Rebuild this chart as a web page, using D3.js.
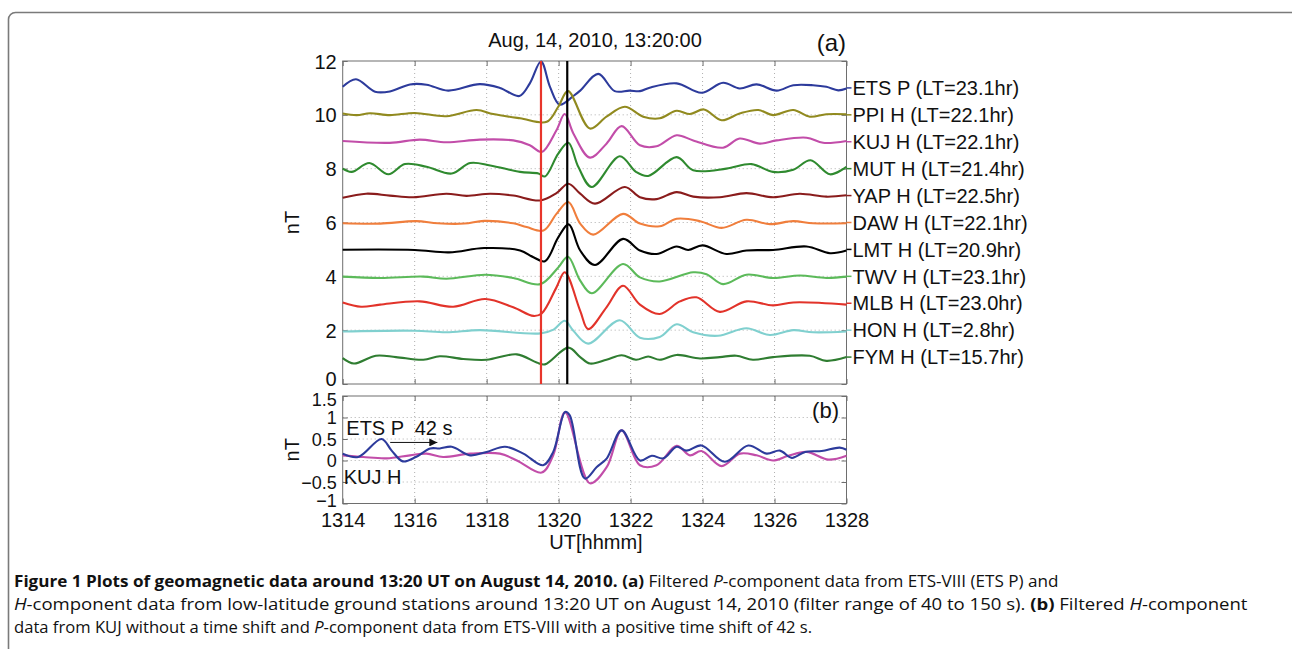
<!DOCTYPE html>
<html><head><meta charset="utf-8">
<script src="https://cdn.jsdelivr.net/npm/d3@7"></script>
<style>
body{margin:0;background:#fff;}
svg{display:block;}
text{font-family:"Liberation Sans",Arial,Helvetica,sans-serif;fill:#111;}
</style></head>
<body>
<svg id="c" width="1292" height="649"></svg>
<script>
// ---------- data ----------
const xTicks = [1314,1316,1318,1320,1322,1324,1326,1328];
const yTicksA = [0,2,4,6,8,10,12];
const yTicksB = [-1,-0.5,0,0.5,1,1.5];
const yTickLabelsB = ["\u22121","\u22120.5","0","0.5","1","1.5"];
const redLineT = 1319.51;
const blackLineT = 1320.24;

const stationNames = ["ETS P (LT=23.1hr)","PPI H (LT=22.1hr)","KUJ H (LT=22.1hr)","MUT H (LT=21.4hr)","YAP H (LT=22.5hr)","DAW H (LT=22.1hr)","LMT H (LT=20.9hr)","TWV H (LT=23.1hr)","MLB H (LT=23.0hr)","HON H (LT=2.8hr)","FYM H (LT=15.7hr)"];
const stationBase = [11,10,9,8,7,6,5,4,3,2,1];
const stationColors = ["#2d3b9c","#918a1f","#c24da9","#2f8a2f","#8a1c1c","#f07e3c","#000000","#5cba5a","#e2332a","#80d0cf","#2f7d31"];

const etsP = [[1314,11.04],[1314.37,11.32],[1314.9,10.86],[1315.31,10.87],[1315.87,11.13],[1316.33,11.12],[1316.93,10.9],[1317.81,11.14],[1318.37,11.0],[1318.91,10.7],[1319.2,11.17],[1319.51,11.98],[1319.76,11.04],[1320.03,10.38],[1320.41,10.7],[1320.6,10.9],[1321.1,11.52],[1321.56,10.88],[1321.97,10.9],[1322.26,10.88],[1322.53,11.01],[1323.28,11.17],[1323.97,10.82],[1324.57,11.19],[1325.03,10.98],[1325.5,11.13],[1326.06,10.9],[1326.52,11.1],[1327.07,11.1],[1327.44,11.04],[1327.77,10.91],[1328,10.98]];
const ppiH = [[1314,10.05],[1314.39,9.99],[1314.76,10.06],[1315.31,9.99],[1316.0,10.07],[1316.88,9.95],[1317.72,10.18],[1318.18,10.03],[1318.93,9.87],[1319.67,9.74],[1319.99,10.3],[1320.26,10.88],[1320.87,9.49],[1321.33,9.93],[1321.84,10.3],[1322.35,9.93],[1322.81,9.87],[1323.28,10.15],[1323.65,10.03],[1324.04,10.2],[1324.53,9.8],[1325.03,10.05],[1325.55,10.18],[1325.96,9.99],[1326.52,10.18],[1326.98,9.93],[1327.44,10.02],[1328,10.02]];
const kujH = [[1314,9.03],[1315.31,8.96],[1316.14,9.08],[1316.88,8.98],[1317.81,9.08],[1318.74,9.05],[1319.2,8.87],[1319.53,8.62],[1319.94,9.43],[1320.17,10.03],[1320.41,9.31],[1320.87,8.41],[1321.33,8.93],[1321.75,9.58],[1322.26,8.87],[1322.72,8.83],[1323.28,9.24],[1323.74,9.05],[1324.57,8.78],[1325.03,9.12],[1325.59,8.93],[1326.06,9.05],[1326.89,9.15],[1327.35,8.96],[1328,9.03]];
const mutH = [[1314,8.0],[1314.25,7.88],[1314.74,8.21],[1315.27,7.79],[1315.73,8.17],[1316.33,8.07],[1317.03,7.82],[1317.54,8.21],[1318.1,8.12],[1318.93,7.88],[1319.44,7.82],[1319.62,7.71],[1319.99,8.56],[1320.27,8.96],[1320.55,8.06],[1320.92,7.32],[1321.7,8.46],[1322.15,7.88],[1322.49,7.73],[1323.28,8.43],[1323.74,7.94],[1324.66,8.0],[1325.36,8.17],[1325.96,7.88],[1326.52,7.96],[1327.0,8.31],[1327.54,7.79],[1328,8.07]];
const yapH = [[1314,6.92],[1314.65,7.07],[1315.31,7.0],[1315.96,6.94],[1316.88,7.07],[1317.44,6.99],[1318.1,7.07],[1318.74,7.0],[1319.49,6.82],[1319.94,7.09],[1320.27,7.44],[1320.6,7.07],[1321.01,6.7],[1321.84,7.32],[1322.26,6.94],[1322.72,6.87],[1323.28,7.13],[1323.74,6.96],[1324.48,6.94],[1325.22,7.09],[1325.96,6.94],[1326.7,7.07],[1327.44,6.96],[1328,7.01]];
const dawH = [[1314,5.97],[1315.04,5.96],[1316.04,6.05],[1316.64,5.97],[1317.38,5.96],[1317.93,6.06],[1318.74,5.97],[1319.11,5.83],[1319.58,5.7],[1319.94,6.32],[1320.27,6.76],[1320.6,5.96],[1320.96,5.55],[1321.79,6.32],[1322.26,5.96],[1322.81,5.86],[1323.28,6.14],[1323.93,6.05],[1324.53,5.8],[1325.22,6.1],[1325.87,5.94],[1326.52,6.05],[1327.07,5.97],[1328,5.97]];
const lmtH = [[1314,4.99],[1316.0,4.98],[1316.96,4.89],[1317.93,5.05],[1318.93,4.96],[1319.3,4.71],[1319.62,4.56],[1319.99,5.45],[1320.28,5.93],[1320.6,4.96],[1321.01,4.42],[1321.79,5.39],[1322.26,4.96],[1322.72,4.83],[1323.28,5.11],[1323.6,4.98],[1324.0,5.15],[1324.66,4.83],[1325.22,4.96],[1325.96,4.98],[1326.89,5.11],[1327.54,4.86],[1328,4.96]];
const twvH = [[1314,3.99],[1315.04,3.94],[1316.24,3.99],[1316.88,3.91],[1317.96,4.06],[1318.74,3.94],[1319.49,3.71],[1319.99,4.33],[1320.26,4.73],[1320.6,3.84],[1320.92,3.37],[1321.79,4.46],[1322.26,3.96],[1322.81,3.81],[1323.74,4.15],[1324.11,4.08],[1324.57,3.71],[1325.22,4.06],[1325.96,3.94],[1326.7,4.03],[1327.44,3.94],[1328,3.99]];
const mlbH = [[1314,3.03],[1314.51,2.87],[1315.04,2.95],[1316.14,3.07],[1317.07,2.87],[1317.96,3.16],[1318.74,2.85],[1319.3,2.53],[1319.53,2.62],[1319.94,3.59],[1320.17,4.15],[1320.6,2.72],[1320.82,2.04],[1321.33,2.85],[1321.79,3.65],[1322.26,2.95],[1322.81,2.6],[1323.37,3.07],[1323.83,3.22],[1324.48,2.68],[1325.22,3.07],[1325.96,2.92],[1326.52,3.03],[1328,2.95]];
const honH = [[1314,1.95],[1316.0,1.98],[1316.88,1.92],[1317.81,2.0],[1319.49,1.88],[1319.86,2.02],[1320.17,2.35],[1320.41,1.98],[1320.82,1.5],[1321.7,2.37],[1322.26,1.72],[1322.81,1.75],[1323.28,2.22],[1323.74,1.92],[1324.43,1.79],[1325.22,2.07],[1325.87,1.82],[1326.52,2.0],[1327.07,1.92],[1328,1.95]];
const fymH = [[1314,0.96],[1314.31,0.76],[1314.92,1.05],[1315.48,1.0],[1316.24,0.9],[1316.7,1.03],[1317.35,0.93],[1318.0,0.9],[1318.84,1.1],[1319.39,0.8],[1319.62,0.73],[1320.27,1.35],[1320.6,1.0],[1320.87,0.76],[1321.33,0.9],[1321.75,1.07],[1322.15,0.9],[1322.49,1.02],[1322.81,0.9],[1323.28,1.08],[1323.93,0.95],[1324.48,1.0],[1324.94,1.05],[1325.4,0.9],[1325.96,1.0],[1326.98,1.05],[1327.44,0.86],[1328,1.0]];

// panel (b)
const etsPShift = [[1314,0.16],[1314.43,0.08],[1315.08,0.5],[1315.36,0.23],[1315.67,-0.02],[1316.03,0.08],[1316.43,0.28],[1316.7,0.28],[1317.03,0.32],[1317.54,0.12],[1318.0,0.2],[1318.51,0.32],[1319.02,0.16],[1319.57,-0.11],[1319.85,0.2],[1320.18,1.13],[1320.31,1.05],[1320.73,-0.42],[1321.06,-0.15],[1321.34,0.05],[1321.75,0.7],[1322.26,0.0],[1322.59,0.11],[1322.91,0.05],[1323.28,0.32],[1323.56,0.23],[1323.97,0.35],[1324.62,-0.03],[1325.27,0.35],[1325.78,0.16],[1326.15,0.23],[1326.48,0.06],[1326.85,0.2],[1327.31,0.22],[1327.81,0.3],[1328,0.25]];
const kujHb = [[1314,0.12],[1314.57,0.08],[1315.22,0.05],[1315.87,0.12],[1316.33,0.16],[1316.79,0.08],[1317.54,0.16],[1318.37,0.16],[1318.84,0.0],[1319.53,-0.28],[1319.85,0.12],[1320.18,1.12],[1320.87,-0.53],[1321.34,-0.15],[1321.75,0.7],[1322.26,-0.11],[1322.72,-0.11],[1323.28,0.34],[1323.65,0.12],[1323.97,0.22],[1324.53,-0.13],[1325.04,0.16],[1325.5,0.12],[1325.96,0.0],[1326.38,0.11],[1326.89,0.2],[1327.5,0.02],[1328,0.11]];

const stationSeries = [etsP,ppiH,kujH,mutH,yapH,dawH,lmtH,twvH,mlbH,honH,fymH];

const captionLines = [
  [["b","Figure 1 Plots of geomagnetic data around 13:20 UT on August 14, 2010. (a)"],["n"," Filtered "],["i","P"],["n","-component data from ETS-VIII (ETS P) and"]],
  [["i","H"],["n","-component data from low-latitude ground stations around 13:20 UT on August 14, 2010 (filter range of 40 to 150 s). "],["b","(b)"],["n"," Filtered "],["i","H"],["n","-component"]],
  [["n","data from KUJ without a time shift and "],["i","P"],["n","-component data from ETS-VIII with a positive time shift of 42 s."]]
];
const captionWidths = [1046,1234,799];

// ---------- drawing ----------
const FS = "20px";
const svg = d3.select("#c");
const X0 = 342.7, X1 = 846.5;
const x = d3.scaleLinear().domain([1314,1328]).range([X0,X1]);
const yA = d3.scaleLinear().domain([0,12]).range([384,61]);
const yB = d3.scaleLinear().domain([-1,1.5]).range([503.5,396]);

svg.append("rect").attr("x",8.5).attr("y",12.5).attr("width",1290).attr("height",660)
  .attr("rx",7).attr("fill","none").attr("stroke","#7a7a7a").attr("stroke-width",1.6);

function panel(y, yticks, ylabels, showX, yfs, firstDy, lastDy){
  const g = svg.append("g");
  const [b,t] = y.range();
  g.selectAll(".gx").data(xTicks.slice(1,-1)).enter().append("line")
    .attr("x1",d=>x(d)).attr("x2",d=>x(d)).attr("y1",t).attr("y2",b)
    .attr("stroke","#9a9a9a").attr("stroke-width",0.8).attr("stroke-dasharray","1,3");
  g.selectAll(".gy").data(yticks.slice(1,-1)).enter().append("line")
    .attr("x1",X0).attr("x2",X1).attr("y1",d=>y(d)).attr("y2",d=>y(d))
    .attr("stroke","#9a9a9a").attr("stroke-width",0.8).attr("stroke-dasharray","1,3");
  g.append("rect").attr("x",X0).attr("y",t).attr("width",X1-X0).attr("height",b-t)
    .attr("fill","none").attr("stroke","#6e6e6e").attr("stroke-width",1);
  const axL = d3.axisLeft(y).tickValues(yticks).tickSizeInner(-5).tickSizeOuter(0).tickFormat((d,i)=>ylabels[i]);
  const gl = g.append("g").attr("transform",`translate(${X0},0)`).call(axL);
  gl.attr("font-size",null).attr("font-family",null);
  gl.select(".domain").remove();
  gl.selectAll(".tick line").attr("stroke","#6e6e6e");
  gl.selectAll(".tick text").attr("x",-6).style("font-size",yfs).attr("fill","#111")
    .attr("dy",(d,i)=> i===0 ? firstDy : (i===yticks.length-1 ? lastDy : "0.35em"));
  const axR = d3.axisRight(y).tickValues(yticks).tickSizeInner(-5).tickSizeOuter(0).tickFormat("");
  const gr = g.append("g").attr("transform",`translate(${X1},0)`).call(axR);
  gr.select(".domain").remove(); gr.selectAll(".tick line").attr("stroke","#6e6e6e");
  const axB = d3.axisBottom(x).tickValues(xTicks).tickSizeInner(-5).tickSizeOuter(0).tickFormat(showX? d3.format("d") : "");
  const gb = g.append("g").attr("transform",`translate(0,${b})`).call(axB);
  gb.attr("font-size",null).attr("font-family",null);
  gb.select(".domain").remove(); gb.selectAll(".tick line").attr("stroke","#6e6e6e");
  gb.selectAll(".tick text").attr("y",9).style("font-size",FS).attr("fill","#111");
  const axT = d3.axisTop(x).tickValues(xTicks).tickSizeInner(-5).tickSizeOuter(0).tickFormat("");
  const gt = g.append("g").attr("transform",`translate(0,${t})`).call(axT);
  gt.select(".domain").remove(); gt.selectAll(".tick line").attr("stroke","#6e6e6e");
  return g;
}

panel(yA, yTicksA, yTicksA.map(String), false, FS, "0.05em", "0.35em");
panel(yB, yTicksB, yTickLabelsB, true, "18px", "0.15em", "0.5em");

const lineA = d3.line().x(d=>x(d[0])).y(d=>yA(d[1])).curve(d3.curveCatmullRom.alpha(0.5));
const lineB = d3.line().x(d=>x(d[0])).y(d=>yB(d[1])).curve(d3.curveCatmullRom.alpha(0.5));

stationSeries.forEach((s,i)=>{
  svg.append("path").attr("d",lineA(s)).attr("fill","none")
    .attr("stroke",stationColors[i]).attr("stroke-width",2.1).attr("stroke-linejoin","round");
  svg.append("line").attr("x1",X1).attr("x2",X1+5).attr("y1",yA(stationBase[i])).attr("y2",yA(stationBase[i]))
    .attr("stroke",stationColors[i]).attr("stroke-width",1.5);
  svg.append("text").attr("x",X1+6).attr("y",yA(stationBase[i])).attr("dy","0.36em")
    .style("font-size",FS).text(stationNames[i]);
});

svg.append("line").attr("x1",x(redLineT)).attr("x2",x(redLineT)).attr("y1",yA(12)).attr("y2",yA(0))
  .attr("stroke","#e8352b").attr("stroke-width",2.2);
svg.append("line").attr("x1",x(blackLineT)).attr("x2",x(blackLineT)).attr("y1",yA(12)).attr("y2",yA(0))
  .attr("stroke","#000").attr("stroke-width",2.2);

svg.append("text").attr("x",595).attr("y",47).attr("text-anchor","middle").style("font-size",FS).text("Aug, 14, 2010, 13:20:00");
svg.append("text").attr("x",846).attr("y",51).attr("text-anchor","end").style("font-size","24px").text("(a)");
svg.append("text").attr("transform",`translate(299,${(yA(0)+yA(12))/2}) rotate(-90)`).attr("text-anchor","middle").style("font-size",FS).text("nT");

svg.append("path").attr("d",lineB(kujHb)).attr("fill","none").attr("stroke","#c24da9").attr("stroke-width",2.1);
svg.append("path").attr("d",lineB(etsPShift)).attr("fill","none").attr("stroke","#2d3b9c").attr("stroke-width",2.1);

svg.append("text").attr("x",839).attr("y",418).attr("text-anchor","end").style("font-size","22px").text("(b)");
svg.append("text").attr("x",x(1314.1)).attr("y",435).style("font-size",FS).text("ETS P");
svg.append("text").attr("x",x(1316.0)).attr("y",435).style("font-size",FS).text("42 s");
svg.append("text").attr("x",x(1314.0)+1).attr("y",484).style("font-size",FS).text("KUJ H");
svg.append("text").attr("transform",`translate(299,${(yB(-1)+yB(1.5))/2}) rotate(-90)`).attr("text-anchor","middle").style("font-size",FS).text("nT");
svg.append("text").attr("x",596).attr("y",549).attr("text-anchor","middle").style("font-size",FS).text("UT[hhmm]");

svg.append("defs").append("marker").attr("id","ah").attr("viewBox","0 0 10 10").attr("refX",10).attr("refY",5)
  .attr("markerWidth",10).attr("markerHeight",8).attr("markerUnits","userSpaceOnUse").attr("orient","auto")
  .append("path").attr("d","M0,0 L10,5 L0,10 Z").attr("fill","#111");
svg.append("line").attr("x1",x(1315.32)).attr("x2",x(1316.63)).attr("y1",yB(0.42)).attr("y2",yB(0.42))
  .attr("stroke","#111").attr("stroke-width",1).attr("marker-end","url(#ah)");

const capY = [587,610,633];
captionLines.forEach((parts,i)=>{
  const t = svg.append("text").attr("x",0).attr("y",0)
    .style("font-family","'Open Sans','Noto Sans',sans-serif").style("font-size","16px").attr("fill","#1a1a1a");
  parts.forEach(p=>{
    const ts = t.append("tspan").text(p[1]).style("font-family","'Open Sans','Noto Sans',sans-serif");
    if(p[0]==="b") ts.style("font-weight","bold");
    if(p[0]==="i") ts.style("font-style","italic");
  });
  const w = t.node().getComputedTextLength();
  const k = captionWidths[i]/w;
  t.attr("transform",`translate(14,${capY[i]}) scale(${k},1)`);
});
</script>
</body></html>
